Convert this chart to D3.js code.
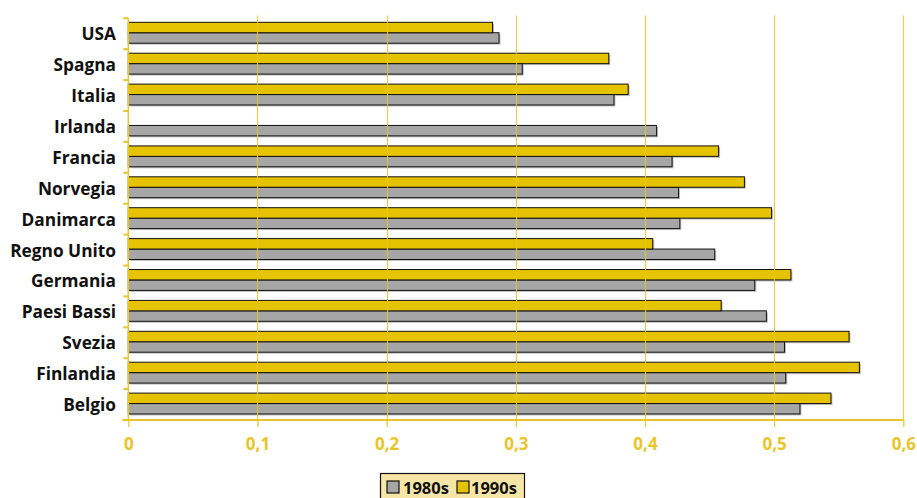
<!DOCTYPE html>
<html>
<head>
<meta charset="utf-8">
<script src="https://cdn.jsdelivr.net/npm/d3@7"></script>
<style>
  html, body { margin: 0; padding: 0; background: #fff; }
  svg { display: block; }
  text { font-family: "Open Sans", "DejaVu Sans", sans-serif; font-weight: 700; }
</style>
</head>
<body>
<svg id="chart" width="917" height="498"></svg>
<script>
// Countries, top to bottom
const countries = ["USA", "Spagna", "Italia", "Irlanda", "Francia", "Norvegia", "Danimarca",
  "Regno Unito", "Germania", "Paesi Bassi", "Svezia", "Finlandia", "Belgio"];
// 1980s values
const values1980s = [0.287, 0.305, 0.376, 0.409, 0.421, 0.426, 0.427, 0.454, 0.485, 0.494, 0.508, 0.509, 0.520];
// 1990s values (Irlanda has no value)
const values1990s = [0.282, 0.372, 0.387, null, 0.457, 0.477, 0.498, 0.406, 0.513, 0.459, 0.558, 0.566, 0.544];
const seriesNames = ["1980s", "1990s"];
const xTicks = [0, 0.1, 0.2, 0.3, 0.4, 0.5, 0.6];
const xTickLabels = ["0", "0,1", "0,2", "0,3", "0,4", "0,5", "0,6"];

const colors = { "1980s": "#a6a6a6", "1990s": "#e6c300" };
const axisYellow = "#e8c52a";

const svg = d3.select("#chart");
const plotLeft = 128.3, plotRight = 903.3, plotTop = 18.3, plotBottom = 420;

const x = d3.scaleLinear().domain([0, 0.6]).range([plotLeft, plotRight]);
const y = d3.scaleBand().domain(countries).range([plotTop, plotBottom]).paddingInner(0).paddingOuter(0);
const ySub = d3.scaleBand().domain(["1990s", "1980s"]).range([0, y.bandwidth()])
  .paddingInner(0).paddingOuter(0.48).align(0.4);

const rows = countries.map((c, i) => ({ country: c, "1980s": values1980s[i], "1990s": values1990s[i] }));
const barData = [];
rows.forEach(r => seriesNames.forEach(s => {
  if (r[s] != null) barData.push({ country: r.country, series: s, value: r[s] });
}));

// Bars with a soft drop shadow
const bars = svg.append("g");
bars.selectAll("rect.shadow").data(barData).join("rect")
  .attr("class", "shadow")
  .attr("x", x(0) + 1.5)
  .attr("y", d => y(d.country) + ySub(d.series) + 1.5)
  .attr("width", d => x(d.value) - x(0))
  .attr("height", ySub.bandwidth())
  .attr("fill", "#8a8a8a")
  .attr("opacity", 0.55);
bars.selectAll("rect.bar").data(barData).join("rect")
  .attr("class", "bar")
  .attr("x", x(0))
  .attr("y", d => y(d.country) + ySub(d.series))
  .attr("width", d => x(d.value) - x(0))
  .attr("height", ySub.bandwidth())
  .attr("fill", d => colors[d.series])
  .attr("stroke", "#111")
  .attr("stroke-width", 1);

// Vertical gridlines drawn over the bars
svg.append("g").selectAll("line").data(xTicks.slice(1)).join("line")
  .attr("x1", d => Math.round(x(d)) + 0.5).attr("x2", d => Math.round(x(d)) + 0.5)
  .attr("y1", 15.5).attr("y2", plotBottom)
  .attr("stroke", axisYellow).attr("stroke-width", 1.2).attr("opacity", 0.85);

// X axis
const xAxis = d3.axisBottom(x).tickValues(xTicks)
  .tickFormat((d, i) => xTickLabels[i]).tickSize(7).tickSizeOuter(0).tickPadding(11);
const gx = svg.append("g").attr("transform", `translate(0,${plotBottom})`).call(xAxis);
gx.select(".domain").attr("stroke", axisYellow).attr("stroke-width", 2)
  .attr("d", `M${plotLeft - 6},0H${plotRight}`);
gx.selectAll(".tick line").attr("stroke", axisYellow).attr("stroke-width", 1.2);
gx.selectAll(".tick text").attr("fill", axisYellow).attr("font-size", 17)
  .attr("font-family", "'Open Sans', sans-serif").attr("font-weight", 700);

// Y axis: ticks at category boundaries, labels centred on each band
const gy = svg.append("g");
gy.append("line").attr("x1", plotLeft).attr("x2", plotLeft).attr("y1", plotTop).attr("y2", plotBottom)
  .attr("stroke", axisYellow).attr("stroke-width", 1.5);
const boundaries = countries.map(c => y(c));
gy.selectAll("line.tk").data(boundaries).join("line").attr("class", "tk")
  .attr("x1", plotLeft - 5).attr("x2", plotLeft).attr("y1", d => d).attr("y2", d => d)
  .attr("stroke", axisYellow).attr("stroke-width", 2);
gy.selectAll("text").data(countries).join("text")
  .attr("x", 116).attr("y", d => y(d) + y.bandwidth() / 2)
  .attr("text-anchor", "end").attr("dominant-baseline", "central")
  .attr("font-size", 17.3).attr("fill", "#111").text(d => d);

// Legend
const lg = svg.append("g").attr("transform", "translate(380.5,473.5)");
lg.append("rect").attr("width", 144).attr("height", 30)
  .attr("fill", "#f6e6a6").attr("stroke", "#111").attr("stroke-width", 1.2);
const items = [
  { name: "1980s", sx: 6.5, tx: 22.5 },
  { name: "1990s", sx: 76.5, tx: 90.5 }
];
items.forEach(it => {
  lg.append("rect").attr("x", it.sx).attr("y", 7.5).attr("width", 12).attr("height", 12)
    .attr("fill", colors[it.name]).attr("stroke", "#111").attr("stroke-width", 1.2);
  lg.append("text").attr("x", it.tx).attr("y", 14).attr("dominant-baseline", "central")
    .attr("font-size", 16.5).attr("fill", "#111").text(it.name);
});
</script>
</body>
</html>
